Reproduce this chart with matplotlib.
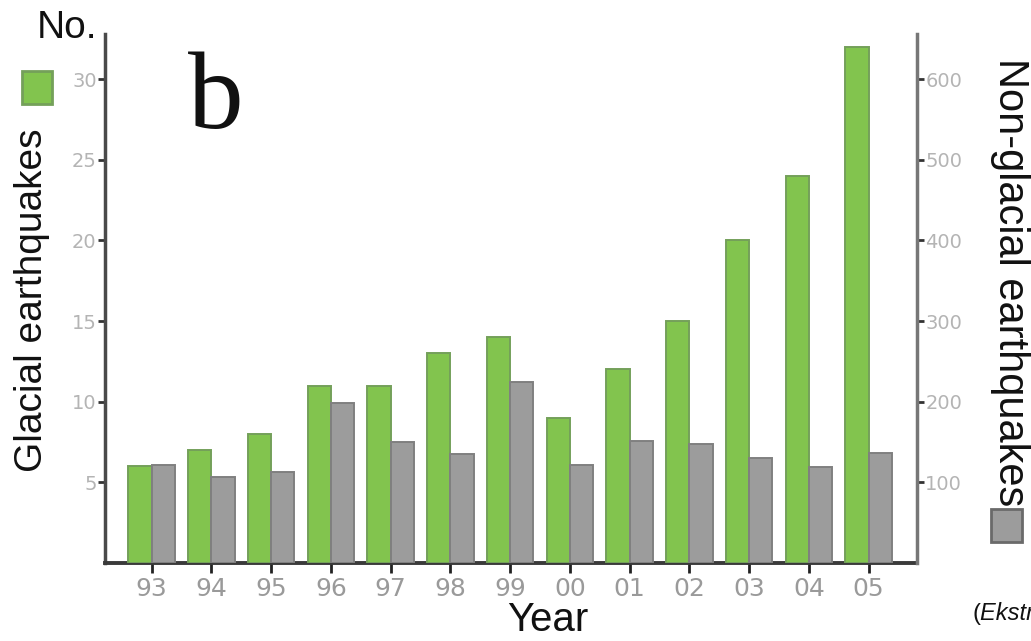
import matplotlib
matplotlib.use("Agg")
import matplotlib.pyplot as plt
from matplotlib.patches import Rectangle
import numpy as np

years = ['93', '94', '95', '96', '97', '98', '99', '00', '01', '02', '03', '04', '05']
glacial = [6, 7, 8, 11, 11, 13, 14, 9, 12, 15, 20, 24, 32]
nonglacial = [122, 107, 113, 198, 150, 135, 224, 121, 151, 147, 130, 119, 136]
left_ticks = [5, 10, 15, 20, 25, 30]
right_ticks = [100, 200, 300, 400, 500, 600]

plt.rcParams['font.family'] = ['Liberation Sans', 'DejaVu Sans']

green = '#82c44e'
green_edge = '#74a05a'
grey = '#9c9c9c'
grey_edge = '#808080'

fig = plt.figure(figsize=(10.31, 6.41), dpi=100)
ax = fig.add_axes([105 / 1031, 1 - 563 / 641, (917 - 105) / 1031, (563 - 34) / 641])
ax2 = ax.twinx()

x = np.arange(len(years))
w = 0.39
ax.bar(x - w / 2, glacial, width=w, color=green, edgecolor=green_edge, linewidth=1.4, zorder=3)
ax2.bar(x + w / 2, nonglacial, width=w, color=grey, edgecolor=grey_edge, linewidth=1.4, zorder=3)

ax.set_xlim(-0.78, 12.81)
ax.set_ylim(0, 32.8)
ax2.set_ylim(0, 656)

ax.set_xticks(x)
ax.set_xticklabels(years, family='DejaVu Sans')
ax.set_yticks(left_ticks)
ax.set_yticklabels([str(t) for t in left_ticks], family='DejaVu Sans')
ax2.set_yticks(right_ticks)
ax2.set_yticklabels([str(t) for t in right_ticks], family='DejaVu Sans')

ax.tick_params(axis='x', length=7, width=2, color='#222222', pad=3,
               labelsize=18, labelcolor='#9a9a9a')
ax.tick_params(axis='y', length=5, width=2, color='#333333', pad=1,
               labelsize=14, labelcolor='#b4b4b4')
ax2.tick_params(axis='y', length=5, width=2, color='#333333', pad=1,
                labelsize=14, labelcolor='#b4b4b4')

for s in ['top', 'right']:
    ax.spines[s].set_visible(False)
ax.spines['left'].set_color('#4a4a4a')
ax.spines['left'].set_linewidth(2.5)
ax.spines['bottom'].set_color('#3a3a3a')
ax.spines['bottom'].set_linewidth(2.8)
for s in ['top', 'left', 'bottom']:
    ax2.spines[s].set_visible(False)
ax2.spines['right'].set_color('#777777')
ax2.spines['right'].set_linewidth(2.5)

# axis titles
fig.text(32 / 1031, 1 - 300 / 641, 'Glacial earthquakes', rotation=90,
         ha='center', va='center', fontsize=28, color='#111111')
fig.text(1010 / 1031, 1 - 282 / 641, 'Non-glacial earthquakes', rotation=270,
         ha='center', va='center', fontsize=30, color='#111111')
fig.text(548 / 1031, 1 - 620 / 641, 'Year', ha='center', va='center',
         fontsize=29, color='#111111')
fig.text(67 / 1031, 1 - 28 / 641, 'No.', ha='center', va='center',
         fontsize=28, color='#111111')
fig.text(188 / 1031, 1 - 128 / 641, 'b', ha='left', va='baseline',
         fontsize=80, family='Liberation Serif', color='#111111')
fig.text(973 / 1031, 1 - 620 / 641, '(', ha='left', va='baseline',
         fontsize=17, color='#111111')
fig.text(980 / 1031, 1 - 620 / 641, 'Ekström et al.', ha='left', va='baseline',
         fontsize=17, style='italic', color='#111111')

# legend squares
fig.patches.append(Rectangle((22 / 1031, 1 - 104 / 641), 30 / 1031, 33 / 641,
                             transform=fig.transFigure, facecolor=green,
                             edgecolor=green_edge, linewidth=2))
fig.patches.append(Rectangle((991 / 1031, 1 - 542 / 641), 31 / 1031, 33 / 641,
                             transform=fig.transFigure, facecolor=grey,
                             edgecolor='#6a6a6a', linewidth=2))

fig.savefig('out.png', dpi=100)
